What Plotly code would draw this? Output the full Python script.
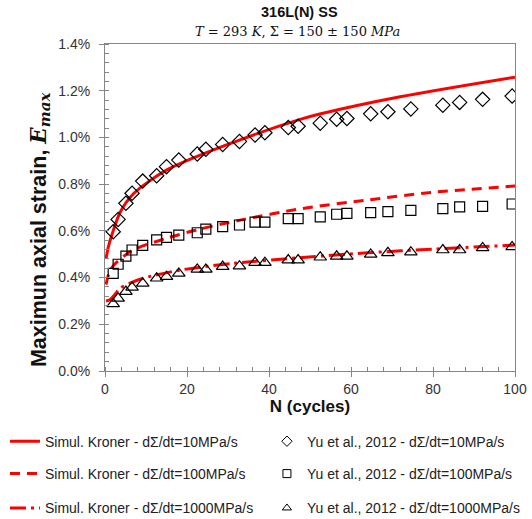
import plotly.graph_objects as go

# ---------------- data ----------------
N_exp = [2.0, 3.2, 5.1, 6.6, 9.2, 12.6, 15.0, 18.0, 22.5, 24.6, 28.7, 32.8, 36.6, 39.0,
         44.7, 47.1, 52.5, 56.5, 59.0, 64.8, 69.0, 74.6, 82.4, 86.5, 92.1, 99.3]
exp_10 = [0.596, 0.649, 0.718, 0.761, 0.813, 0.836, 0.875, 0.903, 0.929, 0.949, 0.970, 0.983,
          1.010, 1.020, 1.042, 1.048, 1.061, 1.078, 1.081, 1.101, 1.110, 1.122, 1.138, 1.150,
          1.163, 1.177]
exp_100 = [0.418, 0.457, 0.492, 0.518, 0.538, 0.561, 0.572, 0.582, 0.592, 0.607, 0.618, 0.625,
           0.637, 0.637, 0.652, 0.652, 0.660, 0.671, 0.675, 0.678, 0.682, 0.688, 0.695, 0.703,
           0.705, 0.715]
exp_1000 = [0.287, 0.311, 0.340, 0.358, 0.375, 0.397, 0.404, 0.418, 0.435, 0.435, 0.447, 0.449,
            0.464, 0.464, 0.475, 0.475, 0.487, 0.491, 0.491, 0.499, 0.506, 0.509, 0.518, 0.518,
            0.527, 0.531]

N_sim10 = [0.25, 0.8, 2, 3.7, 7, 15, 31, 47.6, 52.4, 72, 100]
sim_10 = [0.48, 0.53, 0.60, 0.68, 0.76, 0.86, 0.977, 1.077, 1.10, 1.174, 1.258]
N_sim100 = [0.25, 1, 2, 6.5, 15, 23, 33, 48, 64, 80, 100]
sim_100 = [0.37, 0.42, 0.45, 0.515, 0.568, 0.607, 0.646, 0.695, 0.732, 0.765, 0.792]
N_sim1000 = [0.25, 1.2, 2.5, 3.7, 6, 9.3, 18.3, 31.3, 49, 64, 80, 100]
sim_1000 = [0.30, 0.305, 0.33, 0.354, 0.375, 0.397, 0.432, 0.461, 0.487, 0.506, 0.522, 0.539]

x_ticks = [0, 20, 40, 60, 80, 100]
y_ticks = [0.0, 0.2, 0.4, 0.6, 0.8, 1.0, 1.2, 1.4]

labels_sim = ["Simul. Kroner - dΣ/dt=10MPa/s", "Simul. Kroner - dΣ/dt=100MPa/s",
              "Simul. Kroner - dΣ/dt=1000MPa/s"]
labels_exp = ["Yu et al., 2012 - dΣ/dt=10MPa/s", "Yu et al., 2012 - dΣ/dt=100MPa/s",
              "Yu et al., 2012 - dΣ/dt=1000MPa/s"]

FONT = "Liberation Sans, Arial, sans-serif"
RED = "#FF0000"

fig = go.Figure()
sims = [(N_sim10, sim_10, "solid"), (N_sim100, sim_100, "10px,7px"),
        (N_sim1000, sim_1000, "16px,5px,3px,5px")]
exps = [(exp_10, "diamond-open", 11, 8), (exp_100, "square-open", 10, 8),
        (exp_1000, "triangle-up-open", 11, 8)]

for i in range(3):
    nx, ny, dash = sims[i]
    fig.add_trace(go.Scatter(x=nx, y=ny, mode="lines", name=labels_sim[i],
                             line=dict(color=RED, width=3, dash=dash, shape="spline", smoothing=0.8),
                             legend="legend" if i == 0 else f"legend{2 * i + 1}"))
    ey, sym, sz, lsz = exps[i]
    fig.add_trace(go.Scatter(x=N_exp, y=ey, mode="markers", name=labels_exp[i], showlegend=False,
                             marker=dict(symbol=sym, size=sz, color="black",
                                         line=dict(color="black", width=1.2))))
    # legend-only entry with a smaller symbol, as in the reference legend
    fig.add_trace(go.Scatter(x=[None], y=[None], mode="markers", name=labels_exp[i],
                             marker=dict(symbol=sym, size=lsz, color="black",
                                         line=dict(color="black", width=1)),
                             legend=f"legend{2 * i + 2}"))

leg_common = dict(orientation="v", xanchor="left", yanchor="middle",
                  font=dict(family=FONT, size=14, color="#222"),
                  bgcolor="rgba(0,0,0,0)", itemwidth=30)
ys = [-0.216, -0.315, -0.42]
xs = [-0.244, 0.395]
legend_layout = {}
for r in range(3):
    for c in range(2):
        k = 2 * r + c + 1
        key = "legend" if k == 1 else f"legend{k}"
        legend_layout[key] = dict(**leg_common, x=xs[c], y=ys[r])

fig.update_layout(
    width=532, height=519,
    margin=dict(l=105, r=17, t=44, b=148, autoexpand=False),
    plot_bgcolor="white", paper_bgcolor="white",
    font=dict(family=FONT, size=14, color="#333"),
    **legend_layout,
    xaxis=dict(range=[0, 100], tickvals=x_ticks, ticks="outside", ticklen=5, tickcolor="#868686",
               showline=True, linecolor="#868686", linewidth=1, mirror=True, showgrid=False,
               zeroline=False, tickfont=dict(size=14, color="#333"),
               minor=dict(dtick=4, ticks="inside", ticklen=4, tickcolor="#868686"),
               title=dict(text="<b>N (cycles)</b>", font=dict(size=17, color="#111"), standoff=4)),
    yaxis=dict(range=[0, 1.4], tickvals=y_ticks, ticktext=[f"{v:.1f}%" for v in y_ticks],
               ticks="outside", ticklen=5, tickcolor="#868686", ticklabelstandoff=6,
               showline=True, linecolor="#868686", linewidth=1, mirror=True, showgrid=False,
               zeroline=False, tickfont=dict(size=14, color="#333"),
               minor=dict(dtick=0.04, ticks="inside", ticklen=4, tickcolor="#868686")),
)

# y-axis title (placed as rotated text so it can sit where the reference has it)
fig.add_annotation(text="<b>Maximun axial strain, </b><span style='font-family:DejaVu Serif'><b><i>E</i></b><sub><b><i>max</i></b></sub></span>",
                   xref="paper", yref="paper", x=-0.1585, y=0.434, xanchor="center",
                   yanchor="middle", textangle=-90, showarrow=False,
                   font=dict(family=FONT, size=21.5, color="#111"))

fig.add_annotation(text="<b>316L(N) SS</b>", xref="paper", yref="paper", x=0.475, y=1.0,
                   yshift=32, yanchor="middle", showarrow=False,
                   font=dict(family=FONT, size=14.5, color="#111"))
fig.add_annotation(text="<i>T</i> = 293 <i>K</i>, Σ = 150 ± 150 <i>MPa</i>", xref="paper",
                   yref="paper", x=0.47, y=1.0, yshift=13, yanchor="middle", showarrow=False,
                   font=dict(family="DejaVu Serif, serif", size=13, color="#111"))

fig.write_html("out.html", config={"displayModeBar": False},
               post_script="document.body.style.margin='0';")
